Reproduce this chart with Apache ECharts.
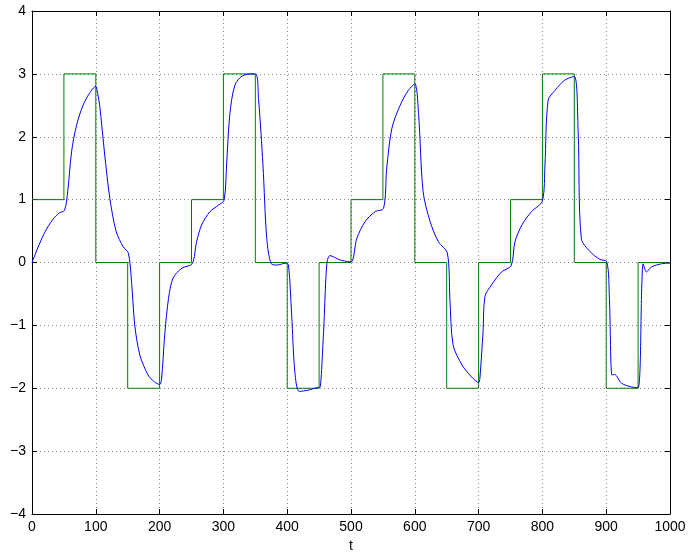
<!DOCTYPE html>
<html>
<head>
<meta charset="utf-8">
<script src="https://cdn.jsdelivr.net/npm/echarts@6/dist/echarts.min.js"></script>
<style>
  html, body { margin: 0; padding: 0; background: #fff; }
  #chart { width: 688px; height: 555px; }
</style>
</head>
<body>
<div id="chart"></div>
<script>
// Reference (setpoint) signal: level held from each switching time until the next
const refTimes  = [0, 50, 100, 150, 200, 250, 300, 350, 400, 450, 500, 550, 600, 650, 700, 750, 800, 850, 900, 950, 1000];
const refLevels = [1, 3, 0, -2, 0, 1, 3, 0, -2, 0, 1, 3, 0, -2, 0, 1, 3, 0, -2, 0, 0];

// System output samples
const outTimes = [0, 9, 20, 33, 43, 51, 56, 62, 70, 80, 90, 100, 101, 106, 114, 122, 132, 143, 151, 156, 161, 169, 182, 192, 200, 203, 208, 214, 221, 235, 251,
  258, 266, 279, 292, 301, 305, 310, 318, 330, 350, 355, 362, 368, 375, 384, 398, 402, 407, 412, 419, 433, 449, 451, 457, 462, 467, 483, 500,
  509, 522, 538, 551, 556, 564, 577, 590, 600, 606, 613, 624, 637, 651, 655, 660, 674, 689, 700, 702, 707, 710, 720, 736, 751,
  757, 768, 783, 800, 804, 809, 820, 835, 850, 856, 861, 875, 890, 901, 905, 909, 913, 924, 940, 950, 956, 958, 963, 971, 987, 1000];
const outValues = [0, 0.23, 0.48, 0.69, 0.79, 0.83, 1.13, 1.76, 2.19, 2.50, 2.69, 2.80, 2.79, 2.50, 1.71, 1.02, 0.49, 0.25, 0.15, -0.30, -0.99, -1.47, -1.79, -1.90, -1.94, -1.86, -1.15, -0.57, -0.25, -0.09, -0.02,
  0.33, 0.60, 0.81, 0.91, 0.99, 1.55, 2.35, 2.82, 2.97, 3.0, 2.61, 1.55, 0.38, -0.02, -0.04, -0.01, -0.04, -0.83, -1.74, -2.05, -2.03, -1.99, -1.99, -1.10, -0.04, 0.11, 0.04, 0.01,
  0.38, 0.65, 0.81, 0.86, 1.50, 2.13, 2.50, 2.74, 2.84, 2.35, 1.13, 0.65, 0.33, 0.15, -0.57, -1.31, -1.63, -1.82, -1.91, -1.84, -1.10, -0.54, -0.36, -0.15, -0.05,
  0.33, 0.60, 0.81, 0.98, 1.55, 2.58, 2.74, 2.90, 2.96, 2.08, 0.38, 0.17, 0.05, 0.01, -0.57, -1.79, -1.78, -1.92, -1.98, -1.99, -0.31, -0.02, -0.15, -0.07, -0.02, -0.01];

const xTicks = [0, 100, 200, 300, 400, 500, 600, 700, 800, 900, 1000];
const yTicks = [-4, -3, -2, -1, 0, 1, 2, 3, 4];

const chart = echarts.init(document.getElementById('chart'), null, { renderer: 'canvas' });

const labelFont = { fontFamily: 'Liberation Sans, Arial, Helvetica, sans-serif', fontSize: 14, color: '#000' };
const gridLine = { show: true, lineStyle: { color: '#8a8a8a', width: 1, type: [1, 3] } };
const fmtX = v => String(v);
const fmtY = v => (v < 0 ? '\u2212' + Math.abs(v) : String(v));

const xBase = {
  type: 'value', min: xTicks[0], max: xTicks[xTicks.length - 1], interval: 100,
  axisLine: { show: true, onZero: false, lineStyle: { color: '#000', width: 1 } },
  axisTick: { show: true, inside: true, length: 5, lineStyle: { color: '#000' } }
};
const yBase = {
  type: 'value', min: yTicks[0], max: yTicks[yTicks.length - 1], interval: 1,
  axisLine: { show: true, onZero: false, lineStyle: { color: '#000', width: 1 } },
  axisTick: { show: true, inside: true, length: 5, lineStyle: { color: '#000' } }
};

chart.setOption({
  animation: false,
  backgroundColor: '#fff',
  grid: { left: 32, right: 18, top: 11, bottom: 41, containLabel: false, outerBoundsMode: 'none' },
  xAxis: [
    Object.assign({}, xBase, {
      position: 'bottom',
      name: 't', nameLocation: 'middle', nameGap: 24,
      nameTextStyle: labelFont,
      axisLabel: Object.assign({ margin: 6, formatter: fmtX }, labelFont),
      splitLine: gridLine
    }),
    Object.assign({}, xBase, { position: 'top', axisLabel: { show: false }, splitLine: { show: false } })
  ],
  yAxis: [
    Object.assign({}, yBase, {
      position: 'left',
      axisLabel: Object.assign({ margin: 6, formatter: fmtY }, labelFont),
      splitLine: gridLine
    }),
    Object.assign({}, yBase, { position: 'right', axisLabel: { show: false }, splitLine: { show: false } })
  ],
  series: [
    {
      name: 'reference', type: 'line', step: 'end', showSymbol: false,
      data: refTimes.map((t, i) => [t, refLevels[i]]),
      lineStyle: { color: '#008000', width: 1 }, z: 2
    },
    {
      name: 'output', type: 'line', showSymbol: false, smooth: 0.3,
      data: outTimes.map((t, i) => [t, outValues[i]]),
      lineStyle: { color: '#0000ff', width: 1 }, z: 3
    }
  ]
});
</script>
</body>
</html>
